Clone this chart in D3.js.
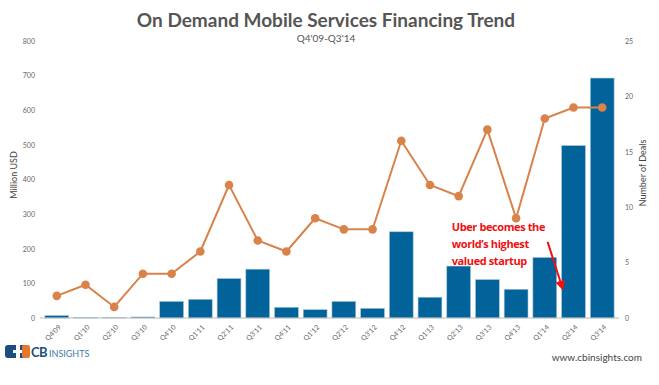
<!DOCTYPE html>
<html>
<head>
<meta charset="utf-8">
<script src="https://cdn.jsdelivr.net/npm/d3@7"></script>
<style>
  body { margin: 0; background: #fff; }
  #chart { width: 659px; height: 385px; }
  text { font-family: Lato, "Open Sans", sans-serif; }
</style>
</head>
<body>
<div id="chart"></div>
<script>
// Chart data
const quarters = ["Q4'09", "Q1'10", "Q2'10", "Q3'10", "Q4'10", "Q1'11", "Q2'11", "Q3'11", "Q4'11", "Q1'12",
                  "Q2'12", "Q3'12", "Q4'12", "Q1'13", "Q2'13", "Q3'13", "Q4'13", "Q1'14", "Q2'14", "Q3'14"];
const funding = [7, 2, 2, 3, 48, 54, 114, 141, 31, 24, 48, 28, 249, 60, 150, 111, 83, 175, 498, 693];
const deals = [2, 3, 1, 4, 4, 6, 12, 7, 6, 9, 8, 8, 16, 12, 11, 17, 9, 18, 19, 19];
const leftTicks = [0, 100, 200, 300, 400, 500, 600, 700, 800];
const rightTicks = [0, 5, 10, 15, 20, 25];
const noteLines = ["Uber becomes the", "world\u2019s highest", "valued startup"];

const container = document.getElementById('chart');
const W = container.clientWidth, H = container.clientHeight;
const margin = { top: 41, right: 40, bottom: 67, left: 40 };
const width = W - margin.left - margin.right;
const height = H - margin.top - margin.bottom;

const root = d3.select(container).append('svg')
    .attr('width', W)
    .attr('height', H);

// Title + subtitle
root.append('text')
    .attr('x', 326).attr('y', 27)
    .attr('text-anchor', 'middle')
    .style('font-size', '19px').style('font-weight', 'bold')
    .style('fill', '#555')
    .text('On Demand Mobile Services Financing Trend');
root.append('text')
    .attr('x', 326).attr('y', 42)
    .attr('text-anchor', 'middle')
    .style('font-size', '10px')
    .style('fill', '#555')
    .text("Q4'09-Q3'14");

const svg = root.append('g')
    .attr('transform', `translate(${margin.left},${margin.top})`);

const x = d3.scaleBand()
    .domain(quarters)
    .range([0, width])
    .padding(0.17);

const yL = d3.scaleLinear().domain([0, 800]).range([height, 0]);
const yR = d3.scaleLinear().domain([0, 25]).range([height, 0]);

// Left axis
const axL = svg.append('g')
    .call(d3.axisLeft(yL).tickValues(leftTicks).tickSize(0).tickPadding(5));
axL.select('.domain').remove();
axL.selectAll('text').style('font-size', '7px').style('fill', '#666');

// Right axis
const axR = svg.append('g')
    .attr('transform', `translate(${width},0)`)
    .call(d3.axisRight(yR).tickValues(rightTicks).tickSize(0).tickPadding(6));
axR.select('.domain').remove();
axR.selectAll('text').style('font-size', '7px').style('fill', '#666');

// Axis titles
svg.append('text')
    .attr('transform', 'rotate(-90)')
    .attr('x', -134).attr('y', -23)
    .attr('text-anchor', 'middle')
    .style('font-size', '9px').style('fill', '#444')
    .text('Million USD');
svg.append('text')
    .attr('transform', 'rotate(-90)')
    .attr('x', -132).attr('y', width + 27)
    .attr('text-anchor', 'middle')
    .style('font-size', '9px').style('fill', '#444')
    .text('Number of Deals');

// Bars
svg.append('g')
    .selectAll('rect')
    .data(funding)
    .enter()
    .append('rect')
    .attr('x', (d, i) => x(quarters[i]))
    .attr('y', d => yL(d))
    .attr('width', x.bandwidth())
    .attr('height', d => height - yL(d))
    .attr('fill', '#02639a')
    .attr('stroke', '#a9c6d8')
    .attr('stroke-width', 0.6);

// Baseline + x labels
svg.append('line')
    .attr('x1', 0).attr('x2', width)
    .attr('y1', height).attr('y2', height)
    .attr('stroke', '#bbb').attr('stroke-width', 1);

svg.append('g')
    .selectAll('text')
    .data(quarters)
    .enter()
    .append('text')
    .attr('transform', d => `translate(${x(d) + x.bandwidth() / 2 + 3},${height + 8})rotate(-45)`)
    .attr('text-anchor', 'end')
    .attr('dy', '0.35em')
    .style('font-size', '7px').style('fill', '#666')
    .text(d => d);

// Deals line
const line = d3.line()
    .x((d, i) => x(quarters[i]) + x.bandwidth() / 2)
    .y(d => yR(d));

svg.append('path')
    .datum(deals)
    .attr('d', line)
    .attr('fill', 'none')
    .attr('stroke', '#d9824a')
    .attr('stroke-width', 2);

svg.append('g')
    .selectAll('circle')
    .data(deals)
    .enter()
    .append('circle')
    .attr('cx', (d, i) => x(quarters[i]) + x.bandwidth() / 2)
    .attr('cy', d => yR(d))
    .attr('r', 4.3)
    .attr('fill', '#d9824a');

// Annotation
const nx = x("Q2'13") + 5;
const note = svg.append('text')
    .attr('x', nx).attr('y', yL(250))
    .style('font-family', '"Open Sans", sans-serif')
    .style('font-size', '11px').style('font-weight', 'bold')
    .style('letter-spacing', '-0.4px')
    .style('fill', '#ee1111');
noteLines.forEach((t, i) => {
    note.append('tspan').attr('x', nx).attr('dy', i === 0 ? 0 : 17).text(t);
});

root.append('defs').append('marker')
    .attr('id', 'arrow')
    .attr('viewBox', '0 0 10 10')
    .attr('refX', 8).attr('refY', 5)
    .attr('markerWidth', 5).attr('markerHeight', 5)
    .attr('orient', 'auto')
    .append('path')
    .attr('d', 'M0,0 L10,5 L0,10 z')
    .attr('fill', '#ee1111');

const ax0 = x("Q2'14") - 14, ay0 = yL(220);
const ax1 = x("Q2'14") + 1, ay1 = yL(85);
svg.append('line')
    .attr('x1', ax0).attr('y1', ay0)
    .attr('x2', ax1).attr('y2', ay1)
    .attr('stroke', '#ee1111').attr('stroke-width', 2)
    .attr('marker-end', 'url(#arrow)');

// Logo
const logo = root.append('g').attr('transform', 'translate(5,345)');
logo.append('rect').attr('x', 0).attr('y', 0).attr('width', 20).attr('height', 13).attr('rx', 3).attr('fill', '#1b4e7e');
logo.append('rect').attr('x', 11).attr('y', -1).attr('width', 4).attr('height', 15).attr('fill', '#fff');
logo.append('rect').attr('x', 8).attr('y', 5).attr('width', 9).attr('height', 3).attr('fill', '#fff');
logo.append('rect').attr('x', 17).attr('y', 0).attr('width', 8).attr('height', 13).attr('rx', 2).attr('fill', '#e8772e');
logo.append('text').attr('x', 26).attr('y', 12)
    .style('font-size', '13px').style('font-weight', 'bold').style('fill', '#1b4e7e')
    .style('letter-spacing', '-0.5px')
    .text('CB');
logo.append('text').attr('x', 44).attr('y', 12)
    .style('font-size', '9px').style('fill', '#3a7aa6')
    .text('INSIGHTS');

root.append('text')
    .attr('x', 642).attr('y', 361)
    .attr('text-anchor', 'end')
    .style('font-size', '10px').style('fill', '#444')
    .text('www.cbinsights.com');
</script>
</body>
</html>
